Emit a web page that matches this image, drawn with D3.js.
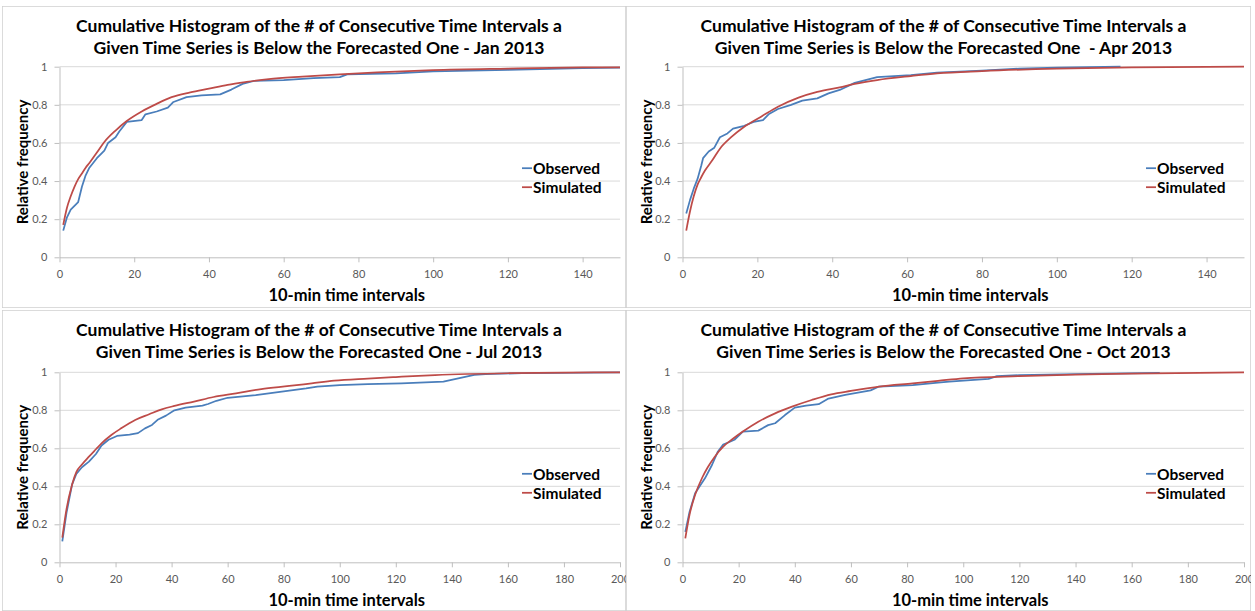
<!DOCTYPE html>
<html>
<head>
<meta charset="utf-8">
<script src="https://cdn.jsdelivr.net/npm/d3@7"></script>
<style>
  body { margin: 0; background: #fff; }
  svg { display: block; font-family: Lato, "Open Sans", sans-serif; }
  .title { font-size: 17.5px; font-weight: bold; white-space: pre; fill: #000; }
  .yTitle { font-size: 15px; font-weight: bold; fill: #000; }
  .xTitle { font-size: 16.5px; font-weight: bold; fill: #000; }
  .legend { font-size: 15.5px; font-weight: bold; fill: #000; }
  .axis text { font-size: 11px; fill: #595959; font-family: Lato, "Open Sans", sans-serif; }
  .axis path, .axis line { stroke: #bfbfbf; }
  .grid line { stroke: #d9d9d9; }
</style>
</head>
<body>
<svg width="1255" height="611"></svg>
<script>
const titleLine1 = "Cumulative Histogram of the # of Consecutive Time Intervals a";
const titleLine2 = [
  "Given Time Series is Below the Forecasted One - Jan 2013",
  "Given Time Series is Below the Forecasted One  - Apr 2013",
  "Given Time Series is Below the Forecasted One - Jul 2013",
  "Given Time Series is Below the Forecasted One - Oct 2013"
];
const seriesNames = ["Observed", "Simulated"];
const seriesColors = ["#4a7ebb", "#be4b48"];
const yTitle = "Relative frequency";
const xTitle = "10-min time intervals";

const xTicksTop = [0, 20, 40, 60, 80, 100, 120, 140];
const xMaxTop = 150;
const xTicksBottom = [0, 20, 40, 60, 80, 100, 120, 140, 160, 180, 200];
const xMaxBottom = 200;
const yTicks = [0, 0.2, 0.4, 0.6, 0.8, 1];

// [interval, relative frequency]
const janObserved = [[1,0.14],[2,0.21],[3,0.25],[4,0.27],[5,0.29],[6,0.37],[7,0.43],[8,0.47],[10,0.52],[12,0.56],[13,0.60],[15,0.63],[16,0.66],[18,0.71],[22,0.72],[23,0.75],[26,0.765],[29,0.785],[30.5,0.815],[34,0.84],[38,0.85],[43,0.855],[46,0.88],[49,0.91],[52,0.925],[60,0.93],[68,0.94],[75,0.945],[77,0.96],[90,0.965],[100,0.975],[120,0.983],[140,0.993],[150,0.995]];
const janSimulated = [[1,0.17],[2,0.26],[3,0.32],[4,0.37],[5,0.41],[6,0.44],[7,0.47],[8,0.495],[10,0.55],[12,0.605],[15,0.665],[18,0.715],[22,0.765],[26,0.805],[30,0.84],[35,0.865],[40,0.885],[45,0.905],[50,0.92],[56,0.935],[65,0.948],[75,0.96],[85,0.97],[100,0.982],[120,0.99],[140,0.996],[150,0.997]];

const aprObserved = [[1,0.23],[2,0.30],[3,0.36],[4,0.41],[5,0.48],[5.5,0.52],[7,0.555],[8.5,0.575],[10,0.63],[12,0.65],[13.5,0.675],[16.5,0.69],[19,0.71],[21.5,0.72],[23,0.75],[25.5,0.778],[29,0.80],[32,0.822],[36,0.834],[39,0.86],[42,0.878],[46,0.915],[52,0.945],[61,0.956],[68,0.969],[80,0.98],[90,0.99],[100,0.995],[117,1.0]];
const aprSimulated = [[1,0.14],[2,0.24],[3,0.32],[4,0.38],[5,0.42],[6,0.455],[8,0.51],[10,0.57],[13,0.63],[16.5,0.685],[21,0.738],[25.5,0.79],[31,0.838],[36,0.868],[42,0.892],[46,0.91],[52,0.93],[61,0.951],[68,0.965],[80,0.977],[100,0.99],[120,0.997],[150,1.0]];

const julObserved = [[1,0.11],[2.5,0.26],[4.5,0.41],[6,0.465],[8,0.50],[10.5,0.53],[13,0.57],[15,0.615],[17.5,0.645],[20.5,0.665],[25,0.672],[28,0.68],[30.5,0.705],[33,0.723],[35,0.75],[38,0.772],[41,0.80],[45,0.814],[51,0.825],[53,0.833],[56,0.85],[60,0.866],[70,0.88],[80,0.90],[88,0.915],[92,0.925],[100,0.932],[110,0.938],[122,0.942],[137,0.951],[148,0.986],[152,0.991],[165,0.995],[200,1.0]];
const julSimulated = [[1,0.13],[2.5,0.28],[4.5,0.41],[6,0.475],[8,0.515],[10.5,0.556],[13,0.595],[15,0.626],[18.5,0.67],[22,0.705],[27,0.749],[32,0.779],[36.5,0.805],[41,0.823],[48,0.846],[55,0.87],[63,0.889],[72,0.912],[82,0.928],[90,0.942],[98,0.956],[110,0.967],[120,0.975],[134,0.985],[160,0.995],[200,1.0]];

const octObserved = [[1,0.16],[2.5,0.265],[4.5,0.363],[6,0.398],[8,0.442],[10.5,0.512],[12.5,0.58],[14.5,0.62],[16.5,0.632],[18.5,0.645],[21.5,0.688],[27,0.693],[30.5,0.722],[33,0.732],[36.5,0.775],[40,0.814],[44,0.825],[48.5,0.832],[52,0.862],[58,0.881],[67,0.905],[70,0.925],[82,0.933],[91,0.946],[95,0.951],[109,0.965],[112,0.98],[120,0.985],[140,0.99],[170,0.997]];
const octSimulated = [[1,0.126],[2.5,0.25],[4.5,0.355],[7,0.445],[9,0.50],[11.5,0.556],[14.5,0.609],[17.5,0.645],[21.5,0.688],[27,0.74],[33,0.784],[39,0.819],[46,0.854],[53,0.884],[60,0.902],[70,0.925],[82,0.942],[91,0.955],[100,0.968],[120,0.98],[140,0.988],[160,0.993],[200,1.0]];

const panels = [
  { title2: titleLine2[0], series: [janObserved, janSimulated], xMax: xMaxTop, xTicks: xTicksTop },
  { title2: titleLine2[1], series: [aprObserved, aprSimulated], xMax: xMaxTop, xTicks: xTicksTop },
  { title2: titleLine2[2], series: [julObserved, julSimulated], xMax: xMaxBottom, xTicks: xTicksBottom },
  { title2: titleLine2[3], series: [octObserved, octSimulated], xMax: xMaxBottom, xTicks: xTicksBottom }
];

// layout of the 2x2 grid
const cols = [
  { x0: 2, x1: 626, left: 59.5, right: 620 },
  { x0: 626, x1: 1251, left: 682.5, right: 1244 }
];
const rows = [
  { y0: 6, y1: 308, top: 66.7, bottom: 257.3 },
  { y0: 310, y1: 611, top: 372.3, bottom: 562.3 }
];

const svg = d3.select("svg");
const defs = svg.append("defs");

panels.forEach((p, i) => {
  const c = cols[i % 2];
  const r = rows[Math.floor(i / 2)];

  defs.append("clipPath").attr("id", `clip${i}`)
    .append("rect")
    .attr("x", c.x0).attr("y", r.y0)
    .attr("width", c.x1 - c.x0).attr("height", r.y1 - r.y0);

  const g = svg.append("g").attr("clip-path", `url(#clip${i})`);

  g.append("rect")
    .attr("x", c.x0).attr("y", r.y0)
    .attr("width", c.x1 - c.x0).attr("height", r.y1 - r.y0)
    .attr("fill", "#fff")
    .attr("stroke", "#cfcfcf")
    .attr("stroke-width", 1.5);

  const xScale = d3.scaleLinear().domain([0, p.xMax]).range([c.left, c.right]);
  const yScale = d3.scaleLinear().domain([0, 1]).range([r.bottom, r.top]);

  // gridlines
  g.append("g").attr("class", "grid")
    .selectAll("line")
    .data(yTicks.filter(d => d > 0))
    .enter().append("line")
    .attr("x1", c.left).attr("x2", c.right)
    .attr("y1", d => yScale(d)).attr("y2", d => yScale(d));

  // axes
  g.append("g").attr("class", "axis")
    .attr("transform", `translate(0,${r.bottom})`)
    .call(d3.axisBottom(xScale).tickValues(p.xTicks).tickSize(5).tickPadding(8).tickSizeOuter(0));
  g.append("g").attr("class", "axis")
    .attr("transform", `translate(${c.left},0)`)
    .call(d3.axisLeft(yScale).tickValues(yTicks).tickFormat(d3.format("~g")).tickSize(5).tickPadding(7).tickSizeOuter(0));

  // series
  const line = d3.line()
    .x(d => xScale(d[0]))
    .y(d => yScale(d[1]));
  p.series.forEach((data, k) => {
    g.append("path")
      .datum(data)
      .attr("fill", "none")
      .attr("stroke", seriesColors[k])
      .attr("stroke-width", 1.75)
      .attr("stroke-linejoin", "round")
      .attr("d", k === 1 ? line.curve(d3.curveMonotoneX)(data) : line.curve(d3.curveLinear)(data));
  });

  // titles
  const cx = (c.x0 + c.x1) / 2 + 5;
  g.append("text").attr("class", "title")
    .attr("x", cx).attr("y", r.y0 + 19)
    .attr("text-anchor", "middle").attr("dominant-baseline", "central")
    .text(titleLine1);
  g.append("text").attr("class", "title")
    .attr("x", cx).attr("y", r.y0 + 41.5)
    .attr("text-anchor", "middle").attr("dominant-baseline", "central")
    .text(p.title2);

  g.append("text").attr("class", "yTitle")
    .attr("transform", `translate(${c.x0 + 20},${(r.top + r.bottom) / 2}) rotate(-90)`)
    .attr("text-anchor", "middle").attr("dominant-baseline", "central")
    .text(yTitle);
  g.append("text").attr("class", "xTitle")
    .attr("x", (c.left + c.right) / 2 + 7).attr("y", r.bottom + 38)
    .attr("text-anchor", "middle").attr("dominant-baseline", "central")
    .text(xTitle);

  // legend
  seriesNames.forEach((name, k) => {
    const ly = r.top + 101.5 + k * 19;
    g.append("line")
      .attr("x1", c.right - 98).attr("x2", c.right - 88)
      .attr("y1", ly).attr("y2", ly)
      .attr("stroke", seriesColors[k]).attr("stroke-width", 1.75);
    g.append("text").attr("class", "legend")
      .attr("x", c.right - 87).attr("y", ly)
      .attr("dominant-baseline", "central")
      .text(name);
  });
});
</script>
</body>
</html>
